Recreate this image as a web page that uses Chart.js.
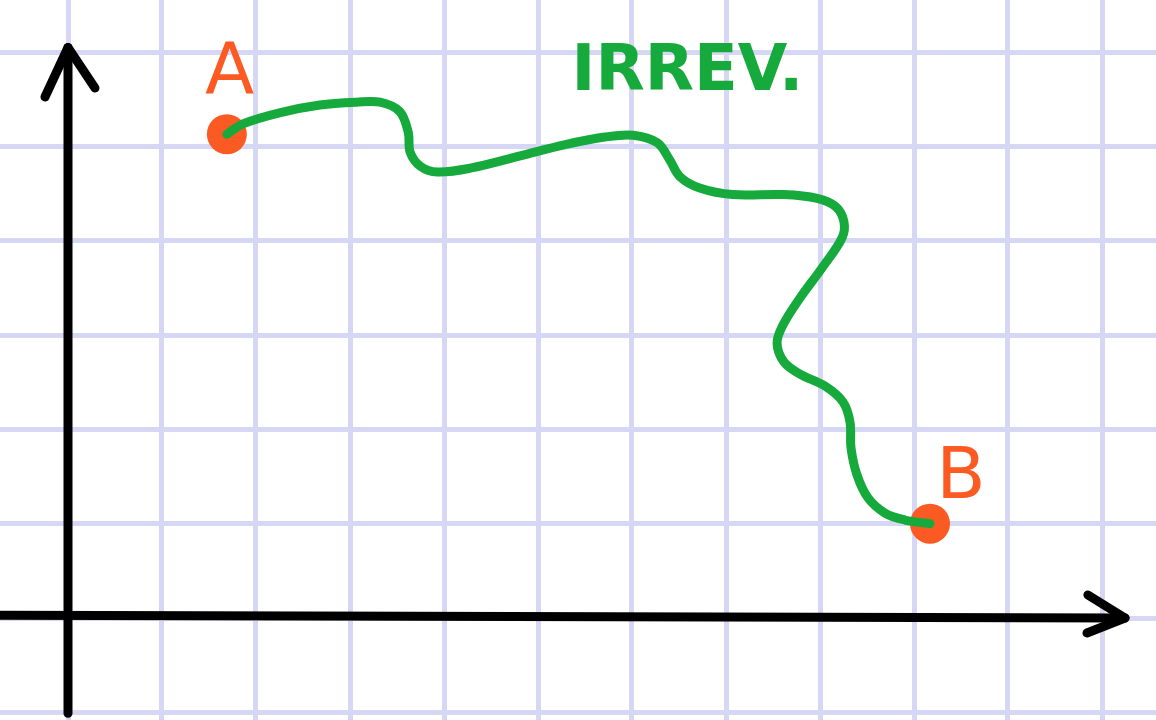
<!DOCTYPE html>
<html>
<head>
<meta charset="utf-8">
<script src="https://cdn.jsdelivr.net/npm/chart.js@4/dist/chart.umd.min.js"></script>
<style>
  html, body { margin: 0; padding: 0; background: #ffffff; }
  canvas { display: block; }
</style>
</head>
<body>
<canvas id="c" width="1156" height="720"></canvas>
<script>
// ---- data (grid units) ----
const gridX = [0, 1, 2, 3, 4, 5, 6, 7, 8, 9, 10, 11];
const gridY = [-1, 0, 1, 2, 3, 4, 5, 6];

const pathX = [1.69, 1.86, 2.26, 2.68, 3.07, 3.32, 3.53, 3.62, 3.64, 3.75, 3.93, 4.28, 4.81, 5.29, 5.71, 6.01, 6.27, 6.40, 6.51, 6.72, 7.07, 7.61, 7.97, 8.17, 8.255, 8.234, 8.021, 7.787, 7.606, 7.543, 7.617, 7.787, 8.053, 8.245, 8.319, 8.330, 8.394, 8.511, 8.691, 8.904, 9.17];
const pathY = [5.13, 5.24, 5.36, 5.44, 5.47, 5.47, 5.37, 5.15, 4.94, 4.79, 4.73, 4.77, 4.90, 5.02, 5.10, 5.12, 5.04, 4.86, 4.68, 4.56, 4.49, 4.49, 4.45, 4.36, 4.20, 4.030, 3.712, 3.393, 3.107, 2.916, 2.715, 2.587, 2.460, 2.291, 2.078, 1.803, 1.516, 1.273, 1.113, 1.039, 1.00];

const stateNames = ['A', 'B'];
const stateX = [1.69, 9.17];
const stateY = [5.13, 1.00];

const yAxisX = [0, 0];
const yAxisY = [-1.01, 6.05];
const yArrowX = [-0.245, 0, 0.287];
const yArrowY = [5.525, 6.05, 5.62];

const xAxisX = [-0.8, 11.245];
const xAxisY = [0.03, 0.0];
const xArrowX = [10.85, 11.245, 10.84];
const xArrowY = [0.244, 0.0, -0.159];

const curveLabel = 'IRREV.';
const curveLabelX = 6.59;
const curveLabelY = 5.60;
const stateLabelX = [1.72, 9.50];
const stateLabelY = [5.57, 1.27];

// ---- helpers ----
const pts = (xs, ys) => xs.map((x, i) => ({ x: x, y: ys[i] }));

const GREEN = '#16a93b';
const ORANGE = '#fc5a23';
const BLACK = '#000000';
const GRID = '#d6d6f5';

const lineDs = (xs, ys, color, width) => ({
  data: pts(xs, ys),
  showLine: true,
  borderColor: color,
  borderWidth: width,
  pointRadius: 0,
  pointHoverRadius: 0,
  borderCapStyle: 'round',
  borderJoinStyle: 'round',
  tension: 0,
  fill: false
});

const bgPlugin = {
  id: 'bg',
  beforeDraw(chart) {
    const ctx = chart.ctx;
    ctx.save();
    ctx.fillStyle = '#ffffff';
    ctx.fillRect(0, 0, chart.width, chart.height);
    ctx.restore();
  }
};

const labelPlugin = {
  id: 'labels',
  afterDatasetsDraw(chart) {
    const ctx = chart.ctx;
    const sx = chart.scales.x, sy = chart.scales.y;
    ctx.save();
    ctx.textAlign = 'center';
    ctx.textBaseline = 'alphabetic';
    ctx.fillStyle = GREEN;
    ctx.font = 'bold 64px "DejaVu Sans"';
    ctx.fillText(curveLabel, sx.getPixelForValue(curveLabelX), sy.getPixelForValue(curveLabelY));
    ctx.fillStyle = ORANGE;
    ctx.font = '72px "DejaVu Sans"';
    stateNames.forEach((n, i) => {
      ctx.fillText(n, sx.getPixelForValue(stateLabelX[i]), sy.getPixelForValue(stateLabelY[i]));
    });
    ctx.restore();
  }
};

const curveDs = lineDs(pathX, pathY, GREEN, 9);
curveDs.tension = 0.35;

new Chart(document.getElementById('c'), {
  type: 'scatter',
  data: {
    datasets: [
      lineDs(yAxisX, yAxisY, BLACK, 9),
      lineDs(yArrowX, yArrowY, BLACK, 9),
      lineDs(xAxisX, xAxisY, BLACK, 9),
      lineDs(xArrowX, xArrowY, BLACK, 9),
      curveDs,
      {
        data: pts(stateX, stateY),
        showLine: false,
        pointRadius: 20,
        pointHoverRadius: 20,
        pointBackgroundColor: ORANGE,
        pointBorderWidth: 0
      }
    ]
  },
  options: {
    responsive: false,
    animation: false,
    events: [],
    layout: { padding: 0, autoPadding: false },
    plugins: { legend: { display: false }, tooltip: { enabled: false } },
    scales: {
      x: {
        type: 'linear',
        min: -68 / 94,
        max: (1156 - 68) / 94,
        afterBuildTicks: s => { s.ticks = gridX.map(v => ({ value: v })); },
        ticks: { display: false },
        grid: { color: GRID, lineWidth: 5, drawTicks: false },
        border: { display: false }
      },
      y: {
        type: 'linear',
        min: (618 - 720) / 94.3,
        max: 618 / 94.3,
        afterBuildTicks: s => { s.ticks = gridY.map(v => ({ value: v })); },
        ticks: { display: false },
        grid: { color: GRID, lineWidth: 5, drawTicks: false },
        border: { display: false }
      }
    }
  },
  plugins: [bgPlugin, labelPlugin]
});
</script>
</body>
</html>
